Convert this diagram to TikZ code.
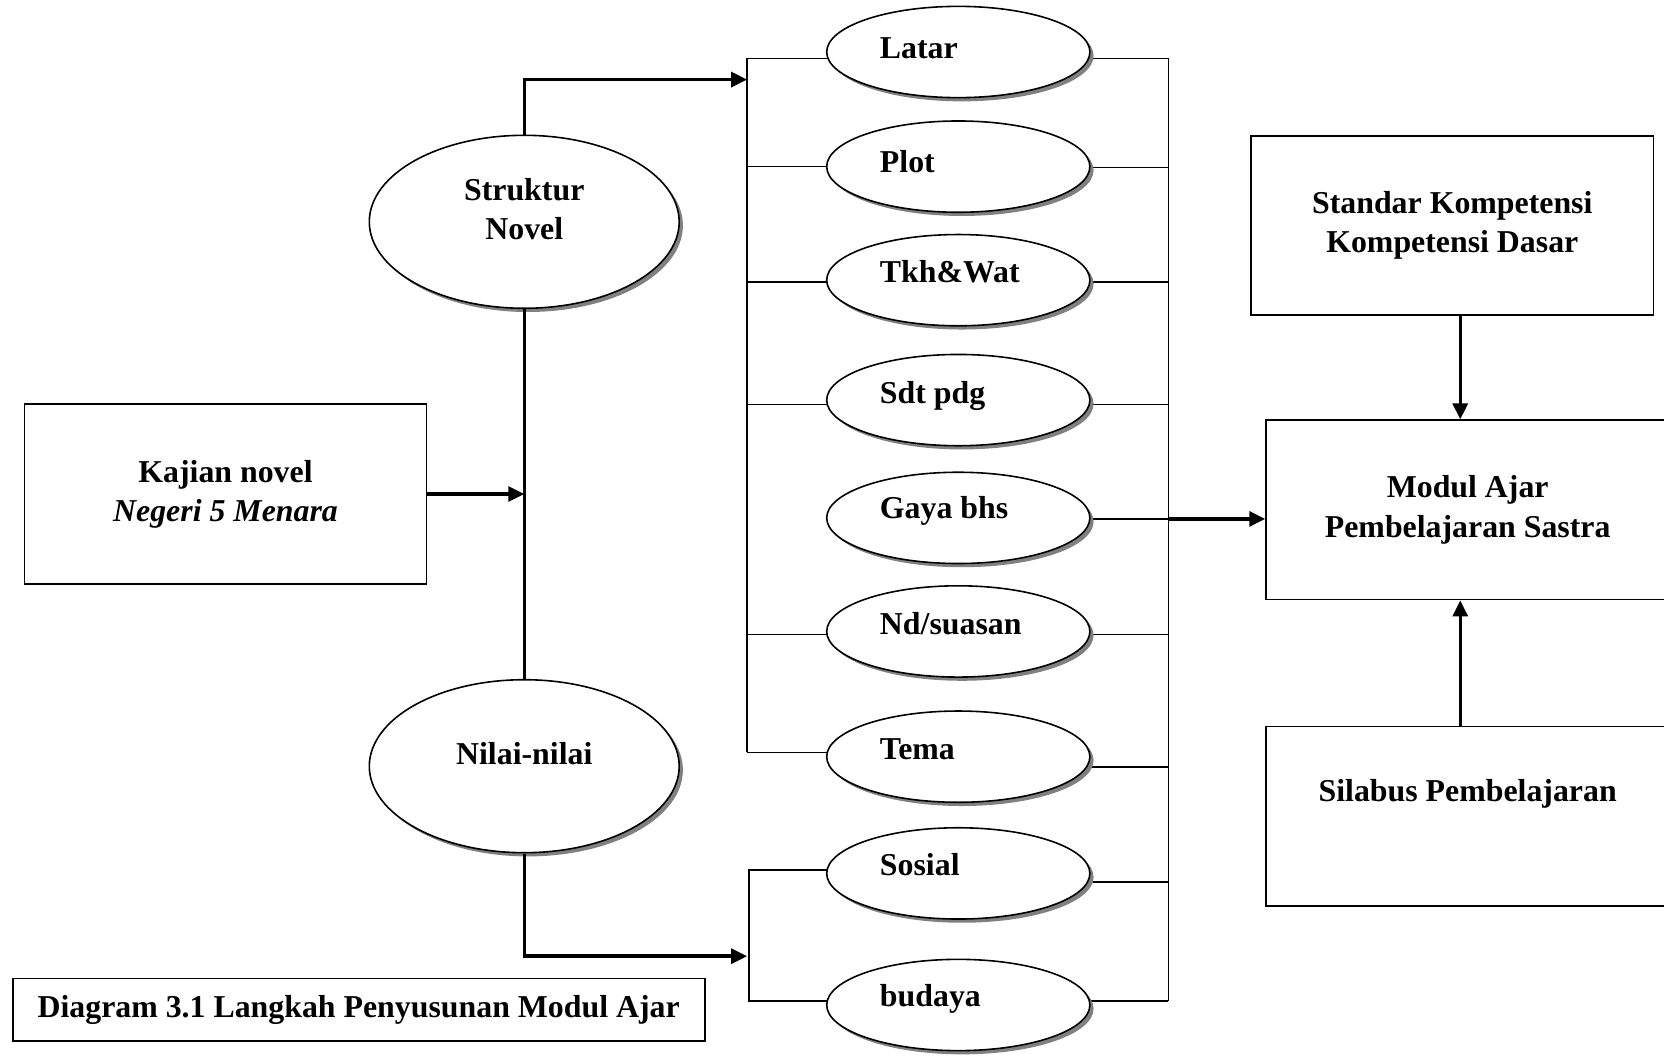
\documentclass[tikz,border=0pt]{standalone}
\usepackage{fontspec}
\setmainfont{Liberation Serif}
\usetikzlibrary{shapes.geometric,shadows,arrows.meta,calc}
\pgfdeclarelayer{bg}
\pgfsetlayers{bg,main}
\begin{document}
\begin{tikzpicture}[x=1pt,y=-1pt,
  txt/.style={font=\fontsize{30}{37}\selectfont\bfseries, inner sep=0pt, align=center},
  oval/.style={ellipse, draw, line width=1.5pt, fill=white, inner sep=0pt,
    drop shadow={shadow xshift=3.5pt, shadow yshift=-3.5pt, fill=black!50, opacity=1}},
  smalloval/.style={oval, minimum width=248pt, minimum height=86pt},
  bigoval/.style={oval, minimum width=292pt, minimum height=163pt},
  box/.style={draw, line width=1.6pt, fill=white, minimum width=379pt, minimum height=169pt,
    inner sep=0pt, align=center, font=\fontsize{30}{37}\selectfont\bfseries},
  thinln/.style={line width=1.5pt},
  thickln/.style={line width=3.2pt},
  arrowtip/.style={-{Triangle[length=15pt,width=14pt]}}
]
\useasboundingbox (0,0) rectangle (1568,996);

% ---- boxes ----
\node[box] (kajian) at (212.5,465.5) {Kajian novel\\\textit{Negeri 5 Menara}};
\node[box] (standar) at (1368.5,212.5) {Standar Kompetensi\\Kompetensi Dasar};
\node[box, minimum width=380pt] (modul) at (1383,480.5) {Modul Ajar\\Pembelajaran Sastra};
\node[box, minimum width=380pt] (silabus) at (1383,769) {};
\node[txt] (silabustxt) at (1383,748) {Silabus Pembelajaran};
\node[draw, line width=1.6pt, minimum width=652pt, minimum height=59pt, inner sep=0pt,
  font=\fontsize{30}{37}\selectfont\bfseries] (caption) at (338,951.5)
  {Diagram 3.1 Langkah Penyusunan Modul Ajar};

% ---- big ovals ----
\node[bigoval] (struk) at (494,209) {};
\node[txt] (struktxt) at (494,197) {Struktur\\Novel};
\node[bigoval] (nilai) at (494,722) {};
\node[txt, anchor=base] (nilaitxt) at (494,720) {Nilai-nilai};

% ---- small ovals ----
\foreach \n/\cy/\by/\t in {latar/49/55/{Latar}, plot/157/163/{Plot}, tkh/264/266/{Tkh\&Wat},
    sdt/377/380/{Sdt pdg}, gaya/488/489/{Gaya bhs}, nd/595/598/{Nd/suasan},
    tema/713/716/{Tema}, sosial/823/825/{Sosial}, budaya/947/948/{budaya}}{
  \node[smalloval] (\n) at (903,\cy) {};
  \node[txt, anchor=base west] (\n txt) at (829,\by) {\t};
}

% ---- coordinates ----
\coordinate (topA) at (704,75);
\coordinate (botA) at (704,901);
\coordinate (lbT) at (704,55);
\coordinate (lbB) at (704,709);
\coordinate (rbT) at (1101,55);
\coordinate (rbB) at (1101,943);
\coordinate (sbT) at (706,820);
\coordinate (sbB) at (706,943);
\coordinate (gayaR) at (1101,489);
\coordinate (arrX) at (1376,0);

\begin{pgfonlayer}{bg}
  \fill[white] (0,0) rectangle (1568,996);
  % left bracket
  \draw[thinln] (lbT) -- (lbB);
  \foreach \n/\y in {latar/55, plot/157, tkh/266, sdt/381, nd/598, tema/709}
    \draw[thinln] (704,\y) -- (\n.center |- 0,\y);
  % right bracket
  \draw[thinln] (rbT) -- (rbB);
  \foreach \n/\y in {latar/55, plot/158, tkh/266, sdt/381, gaya/489, nd/598, tema/722.5, sosial/831, budaya/943}
    \draw[thinln] (\n.center |- 0,\y) -- (1101,\y);
  % values bracket
  \draw[thinln] (sosial.center |- sbT) -- (sbT) -- (sbB) -- (budaya.center |- sbB);
\end{pgfonlayer}

% ---- thick connectors ----
\draw[thickln, arrowtip] (struk.north) |- (topA);
\draw[thickln] (struk.south) -- (nilai.north);
\draw[thickln, arrowtip] (nilai.south) |- (botA);
\draw[thickln, arrowtip] (kajian.east) -- (kajian.east -| struk.center);
\draw[thickln, arrowtip] (gayaR) -- (gayaR -| modul.west);
\draw[thickln, arrowtip] (standar.south -| arrX) -- (modul.north -| arrX);
\draw[thickln, arrowtip] (silabus.north -| arrX) -- (modul.south -| arrX);
\end{tikzpicture}
\end{document}
